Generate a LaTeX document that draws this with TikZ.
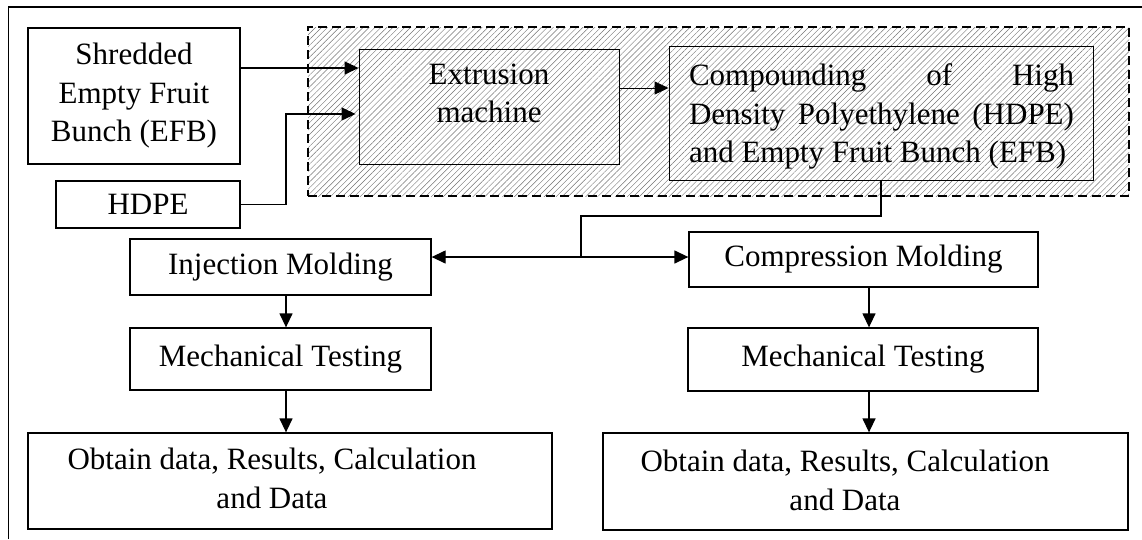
\documentclass[tikz,border=0pt]{standalone}
\usepackage{fontspec}
\setmainfont{Liberation Serif}
\usetikzlibrary{arrows.meta,patterns.meta}
\begin{document}
\begin{tikzpicture}[x=1pt,y=-1pt,
  box/.style={draw, line width=1.3pt, inner sep=0pt},
  thinbox/.style={draw, line width=0.9pt, inner sep=0pt},
  txt/.style={font=\fontsize{31}{38.5}\selectfont, align=center, inner sep=0pt},
  link/.style={line width=1.3pt},
  tip/.tip={Triangle[length=14pt,width=13pt]},
  arr/.style={line width=1.3pt, -tip},
  biarr/.style={line width=1.3pt, tip-tip},
  hatch/.style={pattern={Lines[angle=45,distance=4.2pt,line width=0.45pt]}, pattern color=black!55},
]
\useasboundingbox (0,0) rectangle (1142,539);

% outer frame (top and left edges)
\coordinate (fTL) at (8.5,7);
\coordinate (fTR) at (1142,7);
\coordinate (fBL) at (8.5,539);
\draw[line width=1.2pt] (fBL) -- (fTL) -- (fTR);

% hatched processing group
\node[draw, hatch, dash pattern=on 9pt off 5pt, line width=1.4pt, inner sep=0pt,
      minimum width=821pt, minimum height=169pt] (grp) at (718.5,111.5) {};

% raw materials
\node[box, txt, minimum width=212pt, minimum height=136pt] (shred) at (134,96)
  {Shredded\\Empty Fruit\\Bunch (EFB)};
\node[box, txt, minimum width=184pt, minimum height=47pt] (hdpe) at (148,204.5) {HDPE};

% extrusion and compounding
\node[thinbox, minimum width=260pt, minimum height=115pt] (ext) at (489,106.5) {};
\node[txt] (extT) at (489,93.5) {Extrusion\\machine};
\node[thinbox, minimum width=424pt, minimum height=134pt] (comp) at (881,113) {};
\node[txt, text width=385pt, align=justify] (compT) at (881.5,116.8)
  {\noindent Compounding of High\linebreak Density Polyethylene (HDPE)\linebreak and Empty Fruit Bunch (EFB)};

% molding routes
\node[box, txt, minimum width=301pt, minimum height=56pt] (inj) at (280.5,267) {Injection Molding};
\node[box, txt, minimum width=301pt, minimum height=62pt] (mechL) at (280.5,359) {Mechanical Testing};
\node[box, minimum width=524pt, minimum height=96pt] (obtL) at (290,481) {};
\node[txt] (obtLT) at (272,478.4) {Obtain data, Results, Calculation\\and Data};

\node[box, txt, minimum width=349pt, minimum height=55pt] (cmp) at (863.5,259.5) {Compression Molding};
\node[box, txt, minimum width=350pt, minimum height=63pt] (mechR) at (863,359.5) {Mechanical Testing};
\node[box, minimum width=525pt, minimum height=97pt] (obtR) at (865.5,481.5) {};
\node[txt] (obtRT) at (845,480.4) {Obtain data, Results, Calculation\\and Data};

% connectors
\coordinate (hbend) at (286,114);
\coordinate (split) at (581,257);
\draw[arr] (shred.east |- 0,68) -- (ext.west |- 0,68);
\draw[arr, shorten >=3pt] (hdpe.east) -| (hbend) -- (ext.west |- hbend);
\draw[arr, line width=0.9pt] (ext.east |- 0,88) -- (comp.west |- 0,88);
\draw[link] (comp.south) |- (split |- 0,216) -- (split);
\draw[biarr] (inj.east |- split) -- (cmp.west |- split);

\draw[arr] (inj.south -| 286,0) -- (mechL.north -| 286,0);
\draw[arr] (mechL.south -| 286,0) -- (obtL.north -| 286,0);
\draw[arr] (cmp.south -| 869,0) -- (mechR.north -| 869,0);
\draw[arr] (mechR.south -| 869,0) -- (obtR.north -| 869,0);
\end{tikzpicture}
\end{document}
